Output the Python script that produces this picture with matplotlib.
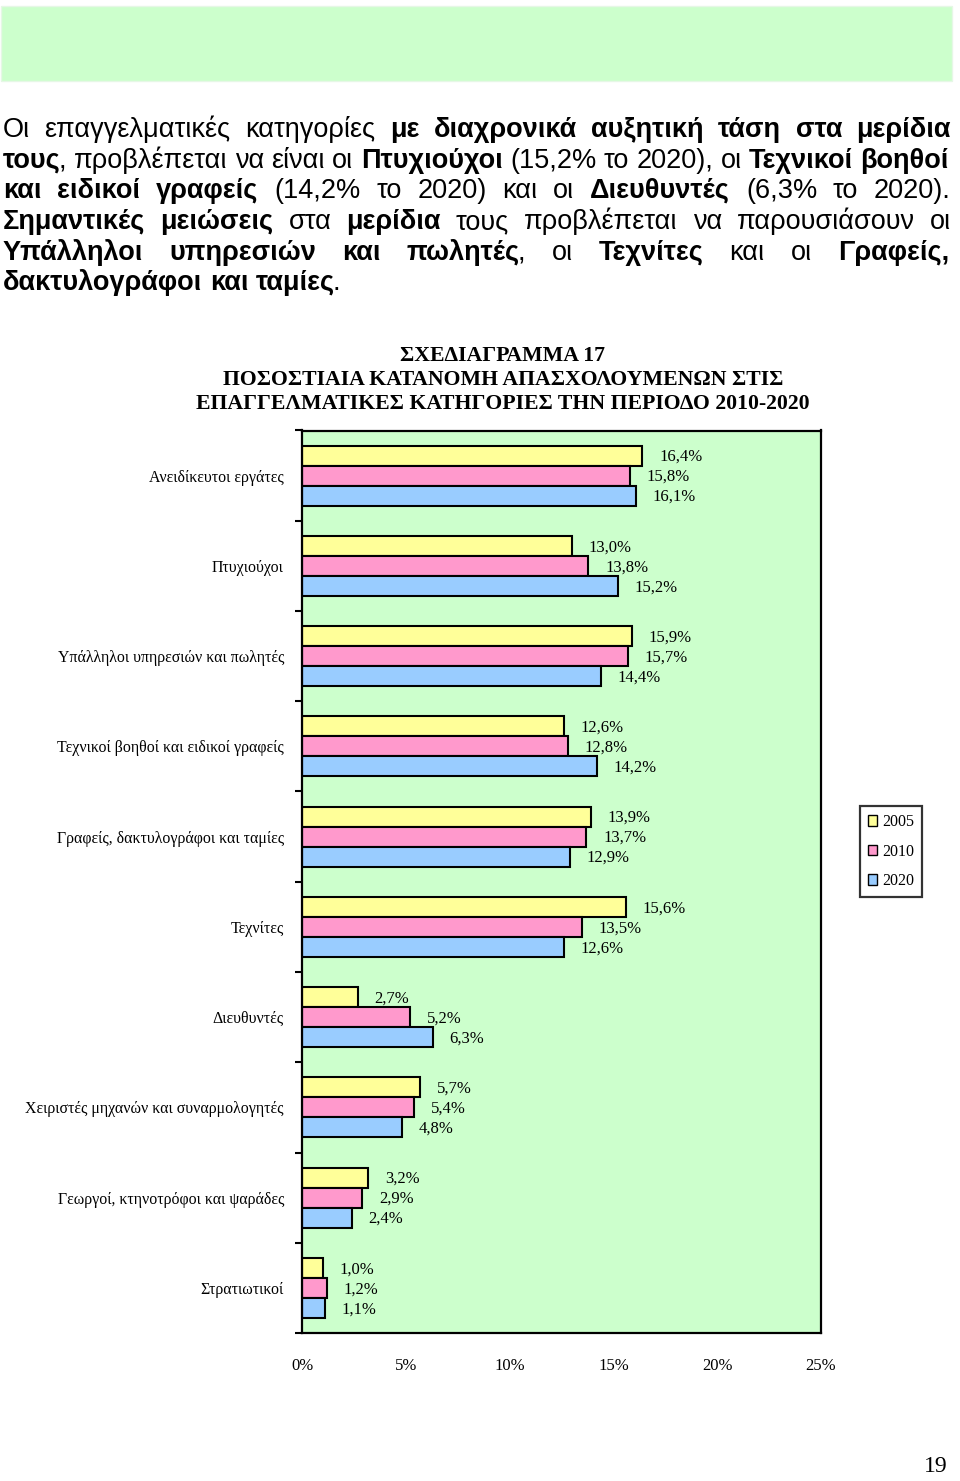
import matplotlib
matplotlib.use("Agg")
import matplotlib.pyplot as plt
import numpy as np
from matplotlib.patches import Rectangle

# data
categories = ["Ανειδίκευτοι εργάτες", "Πτυχιούχοι", "Υπάλληλοι υπηρεσιών και πωλητές",
              "Τεχνικοί βοηθοί και ειδικοί γραφείς", "Γραφείς, δακτυλογράφοι και ταμίες",
              "Τεχνίτες", "Διευθυντές", "Χειριστές μηχανών και συναρμολογητές",
              "Γεωργοί, κτηνοτρόφοι και ψαράδες", "Στρατιωτικοί"]
years = ["2005", "2010", "2020"]
v2005 = [16.4, 13.0, 15.9, 12.6, 13.9, 15.6, 2.7, 5.7, 3.2, 1.0]
v2010 = [15.8, 13.8, 15.7, 12.8, 13.7, 13.5, 5.2, 5.4, 2.9, 1.2]
v2020 = [16.1, 15.2, 14.4, 14.2, 12.9, 12.6, 6.3, 4.8, 2.4, 1.1]
xticks = [0, 5, 10, 15, 20, 25]
colors = ["#FFFF99", "#FF99CC", "#99CCFF"]

title_lines = ["ΣΧΕΔΙΑΓΡΑΜΜΑ 17",
               "ΠΟΣΟΣΤΙΑΙΑ ΚΑΤΑΝΟΜΗ ΑΠΑΣΧΟΛΟΥΜΕΝΩΝ ΣΤΙΣ",
               "ΕΠΑΓΓΕΛΜΑΤΙΚΕΣ ΚΑΤΗΓΟΡΙΕΣ ΤΗΝ ΠΕΡΙΟΔΟ 2010-2020"]

# paragraph: (text, bold) segments per line
para = [
    [("Οι επαγγελματικές κατηγορίες ", False), ("με διαχρονικά αυξητική τάση στα μερίδια", True)],
    [("τους", True), (", προβλέπεται να είναι οι ", False), ("Πτυχιούχοι", True),
     (" (15,2% το 2020), οι ", False), ("Τεχνικοί βοηθοί", True)],
    [("και ειδικοί γραφείς", True), (" (14,2% το 2020) και οι ", False), ("Διευθυντές", True),
     (" (6,3% το 2020).", False)],
    [("Σημαντικές μειώσεις", True), (" στα ", False), ("μερίδια", True),
     (" τους προβλέπεται να παρουσιάσουν οι", False)],
    [("Υπάλληλοι υπηρεσιών και πωλητές", True), (", οι ", False), ("Τεχνίτες", True),
     (" και οι ", False), ("Γραφείς,", True)],
    [("δακτυλογράφοι και ταμίες", True), (".", False)],
]

W, H = 960, 1481
fig = plt.figure(figsize=(9.6, 14.81), dpi=100)
fig.patch.set_facecolor("white")

def fx(px):
    return px / W

def fy(py):
    return 1 - py / H

# green banner at the top
fig.patches.append(Rectangle((fx(1), fy(81)), fx(951), 75 / H, transform=fig.transFigure,
                             facecolor="#CCFFCC", edgecolor="#E6F7E6", linewidth=1))

# justified paragraph
renderer = fig.canvas.get_renderer()
pfont = dict(family="Liberation Sans", fontsize=19.5)

def split_words(segs):
    words = [[]]
    for txt, b in segs:
        parts = txt.split(" ")
        for i, p in enumerate(parts):
            if i > 0:
                words.append([])
            if p:
                words[-1].append((p, b))
    return [w for w in words if w]

def width_of(s, b):
    t = fig.text(0, 0, s, fontweight="bold" if b else "normal", **pfont)
    w = t.get_window_extent(renderer).width
    t.remove()
    return w

def advance(s, b):
    return width_of(s + "l", b) - width_of("l", b)

left, right = 3, 951
baselines = [137, 168, 198, 229, 260, 290]
for li, segs in enumerate(para):
    words = split_words(segs)
    wl = [[advance(s, b) for s, b in w] for w in words]
    total = sum(sum(x) for x in wl)
    if li < len(para) - 1:
        gap = (right - left - total) / (len(words) - 1)
    else:
        gap = advance("a a", False) - 2 * advance("a", False)
    x = left
    for w, ws in zip(words, wl):
        for j, ((s, b), sw) in enumerate(zip(w, ws)):
            if j > 0 and s[0] in ",.":
                x -= 2
            fig.text(fx(x), fy(baselines[li]), s, fontweight="bold" if b else "normal",
                     va="baseline", ha="left", **pfont)
            x += sw
        x += gap

# chart title
for i, line in enumerate(title_lines):
    fig.text(fx(503), fy(356 + 24 * i), line, family="Liberation Serif", fontweight="bold",
             fontsize=15.7, ha="center", va="center")

# chart
ax = fig.add_axes([fx(302), fy(1333), (821 - 302) / W, (1333 - 430.5) / H])
ax.set_facecolor("#CCFFCC")
y = np.arange(len(categories))
h = 0.222
series = [v2005, v2010, v2020]
for k, vals in enumerate(series):
    bars = ax.barh(y + (k - 1) * h, vals, height=h, color=colors[k], edgecolor="black",
                   linewidth=1.5, label=years[k])
    for b, v in zip(bars, vals):
        ax.annotate(f"{v:.1f}%".replace(".", ","), (v, b.get_y() + b.get_height() / 2),
                    xytext=(12, -1), textcoords="offset points", ha="left", va="center",
                    family="Liberation Serif", fontsize=12)

ax.set_xlim(0, 25)
ax.set_ylim(len(categories) - 0.5, -0.5)
ax.set_xticks(xticks)
ax.set_xticklabels([f"{t}%" for t in xticks], family="Liberation Serif", fontsize=12)
ax.tick_params(axis="x", length=0, pad=18)
ax.set_yticks(np.arange(len(categories) + 1) - 0.5)
ax.set_yticklabels([])
ax.tick_params(axis="y", which="major", length=5, width=1.5, direction="out")
ax.set_yticks(y, minor=True)
ax.set_yticklabels(categories, minor=True, family="Liberation Serif", fontsize=11.4)
ax.tick_params(axis="y", which="minor", length=0, pad=13)
for sp in ax.spines.values():
    sp.set_linewidth(1.6)
    sp.set_color("black")

leg = ax.legend(loc="upper left", bbox_to_anchor=(fx(860), fy(806)),
                bbox_transform=fig.transFigure, frameon=True, fancybox=False,
                prop=dict(family="Liberation Serif", size=11.5), handlelength=0.55,
                handleheight=0.65, handletextpad=0.35, labelspacing=0.85, borderpad=0.5,
                borderaxespad=0)
leg.get_frame().set_edgecolor("black")
leg.get_frame().set_linewidth(1.6)
for p in leg.get_patches():
    p.set_linewidth(1.0)

# page number
fig.text(fx(936), fy(1466), "19", family="Liberation Serif", fontsize=17, ha="center", va="center")

fig.savefig("out.png", dpi=100, facecolor="white")
